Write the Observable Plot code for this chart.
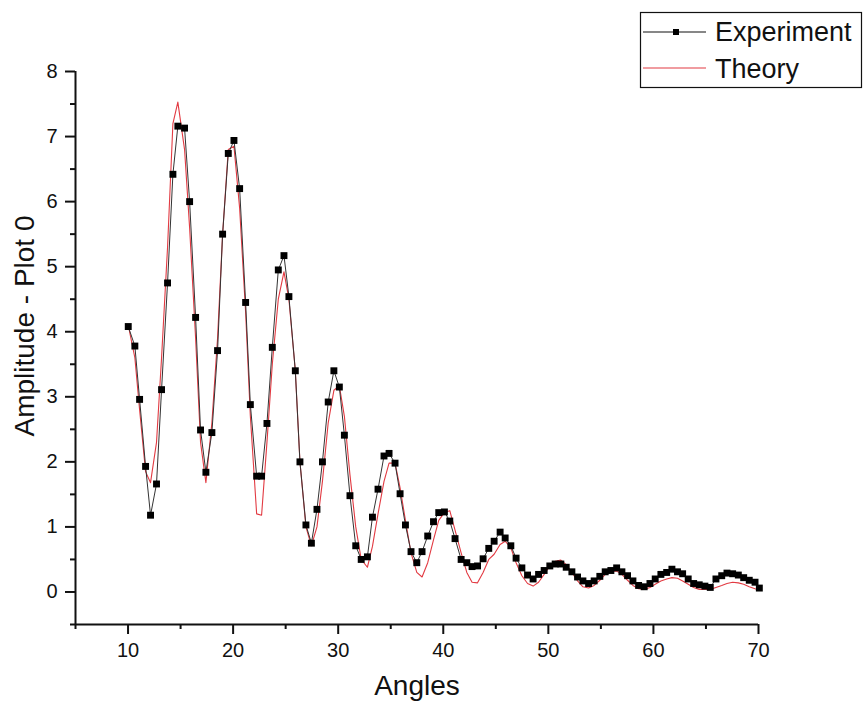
<!DOCTYPE html>
<html>
<head>
<meta charset="utf-8">
<script src="https://cdn.jsdelivr.net/npm/d3@7"></script>
<script src="https://cdn.jsdelivr.net/npm/@observablehq/plot@0.6"></script>
<style>
  html, body { margin: 0; padding: 0; background: #fff; }
  #chart { width: 865px; height: 708px; }
  svg { font-family: "Liberation Sans", Arial, sans-serif; }
</style>
</head>
<body>
<div id="chart"></div>
<script>
// Angles (degrees)
const angles = [10.02,10.65,11.10,11.67,12.14,12.71,13.19,13.76,14.27,14.74,15.38,15.86,16.43,16.90,17.41,17.98,18.52,19.00,19.54,20.08,
  20.62,21.19,21.64,22.24,22.71,23.22,23.73,24.30,24.84,25.31,25.92,26.36,26.93,27.45,27.98,28.50,29.05,29.59,30.11,30.59,
  31.12,31.67,32.19,32.78,33.26,33.79,34.36,34.84,35.41,35.89,36.40,36.93,37.48,37.98,38.52,39.07,39.57,40.11,40.62,41.12,
  41.70,42.24,42.74,43.26,43.79,44.33,44.84,45.41,45.89,46.43,46.93,47.48,48.02,48.55,49.07,49.60,50.14,50.65,51.19,51.70,
  52.24,52.78,53.29,53.83,54.36,54.90,55.41,55.95,56.50,57.00,57.54,58.05,58.59,59.12,59.67,60.17,60.71,61.26,61.76,62.29,
  62.78,63.31,63.83,64.36,64.90,65.41,65.95,66.50,67.00,67.54,68.08,68.59,69.12,69.67,70.08];

const experiment = [4.08,3.78,2.96,1.93,1.18,1.66,3.11,4.75,6.42,7.16,7.13,6.00,4.22,2.49,1.84,2.45,3.71,5.50,6.74,6.94,
  6.20,4.45,2.88,1.78,1.78,2.59,3.76,4.95,5.17,4.54,3.40,2.00,1.03,0.75,1.27,2.00,2.92,3.40,3.15,2.41,
  1.48,0.71,0.50,0.54,1.15,1.58,2.09,2.13,1.98,1.51,1.03,0.62,0.45,0.62,0.86,1.08,1.22,1.23,1.09,0.82,
  0.50,0.45,0.39,0.40,0.51,0.67,0.78,0.92,0.83,0.71,0.52,0.37,0.26,0.20,0.27,0.33,0.40,0.43,0.43,0.38,
  0.31,0.23,0.17,0.13,0.17,0.24,0.31,0.33,0.37,0.31,0.25,0.17,0.10,0.08,0.13,0.20,0.27,0.30,0.35,0.31,
  0.28,0.20,0.13,0.11,0.09,0.07,0.20,0.25,0.29,0.28,0.26,0.22,0.18,0.15,0.06];

const theory = [4.10,3.60,2.80,1.85,1.68,2.30,3.60,5.30,7.20,7.53,6.80,5.60,3.90,2.30,1.68,2.60,3.90,5.50,6.80,6.85,
  5.90,4.30,2.70,1.20,1.18,2.30,3.50,4.50,4.92,4.50,3.40,2.00,1.00,0.71,1.00,1.70,2.60,3.10,3.17,2.70,
  1.80,1.00,0.50,0.38,0.70,1.20,1.70,1.98,1.98,1.60,1.10,0.60,0.30,0.23,0.45,0.80,1.10,1.22,1.25,0.95,
  0.60,0.30,0.15,0.14,0.30,0.50,0.58,0.73,0.78,0.68,0.45,0.25,0.13,0.09,0.15,0.27,0.40,0.47,0.49,0.42,
  0.30,0.17,0.08,0.06,0.10,0.18,0.27,0.32,0.32,0.27,0.18,0.10,0.05,0.04,0.07,0.12,0.17,0.20,0.22,0.21,
  0.17,0.12,0.07,0.04,0.04,0.04,0.07,0.10,0.13,0.15,0.14,0.12,0.08,0.05,0.03];

const xTicks = [10, 20, 30, 40, 50, 60, 70];
const xMinorTicks = [5, 15, 25, 35, 45, 55, 65];
const yTicks = [0, 1, 2, 3, 4, 5, 6, 7, 8];
const yMinorTicks = [-0.5, 0.5, 1.5, 2.5, 3.5, 4.5, 5.5, 6.5, 7.5];
const xTitle = "Angles";
const yTitle = "Amplitude - Plot 0";
const seriesNames = ["Experiment", "Theory"];

const expData = angles.map((a, i) => ({angle: a, value: experiment[i]}));
const thData = angles.map((a, i) => ({angle: a, value: theory[i]}));

const RED = "#e23a42";
const FONT = "'Liberation Sans', Arial, sans-serif";

const chart = Plot.plot({
  width: 865,
  height: 708,
  marginLeft: 75,
  marginRight: 107,
  marginTop: 71,
  marginBottom: 84,
  style: {fontFamily: FONT, background: "#fff", color: "#111"},
  x: {domain: [5, 70]},
  y: {domain: [-0.5, 8]},
  marks: [
    Plot.axisX(xTicks, {tickSize: 10, tickPadding: 8, fontSize: 20, strokeWidth: 2, label: null, tickFormat: d => String(d)}),
    Plot.axisX(xMinorTicks, {tickSize: 5, strokeWidth: 2, label: null, tickFormat: () => ""}),
    Plot.axisY(yTicks, {tickSize: 10, tickPadding: 8, fontSize: 20, strokeWidth: 2, label: null, tickFormat: d => String(d)}),
    Plot.axisY(yMinorTicks, {tickSize: 5, strokeWidth: 2, label: null, tickFormat: () => ""}),
    Plot.ruleY([-0.5], {stroke: "#111", strokeWidth: 2}),
    Plot.ruleX([5], {stroke: "#111", strokeWidth: 2}),
    Plot.line(thData, {x: "angle", y: "value", stroke: RED, strokeWidth: 1.1}),
    Plot.line(expData, {x: "angle", y: "value", stroke: "#333", strokeWidth: 1}),
    Plot.dot(expData, {x: "angle", y: "value", symbol: "square", r: 3.9, fill: "#000", stroke: "none"}),
    Plot.text([xTitle], {frameAnchor: "bottom", dy: 62, fontSize: 28, fill: "#111", lineAnchor: "middle", textAnchor: "middle"}),
    Plot.text([yTitle], {frameAnchor: "left", dx: -50, dy: -22, rotate: -90, fontSize: 28, fill: "#111", lineAnchor: "middle", textAnchor: "middle"})
  ]
});

// Legend box drawn into the SVG, top right
const svg = d3.select(chart);
const lg = svg.append("g").attr("font-family", FONT).attr("text-anchor", "start");
lg.append("rect").attr("x", 640.5).attr("y", 12.5).attr("width", 221).attr("height", 75)
  .attr("fill", "#fff").attr("stroke", "#111").attr("stroke-width", 1.2);
// Experiment entry
lg.append("line").attr("x1", 643).attr("x2", 706).attr("y1", 32).attr("y2", 32).attr("stroke", "#111").attr("stroke-width", 1.2);
lg.append("rect").attr("x", 673).attr("y", 29).attr("width", 6).attr("height", 6).attr("fill", "#000");
lg.append("text").attr("x", 715).attr("y", 41).attr("font-size", 27).attr("fill", "#111").attr("text-anchor", "start").text(seriesNames[0]);
// Theory entry
lg.append("line").attr("x1", 643).attr("x2", 706).attr("y1", 68).attr("y2", 68).attr("stroke", RED).attr("stroke-width", 1.2);
lg.append("text").attr("x", 715).attr("y", 78).attr("font-size", 27).attr("fill", "#111").attr("text-anchor", "start").text(seriesNames[1]);

document.getElementById("chart").appendChild(chart);
</script>
</body>
</html>
